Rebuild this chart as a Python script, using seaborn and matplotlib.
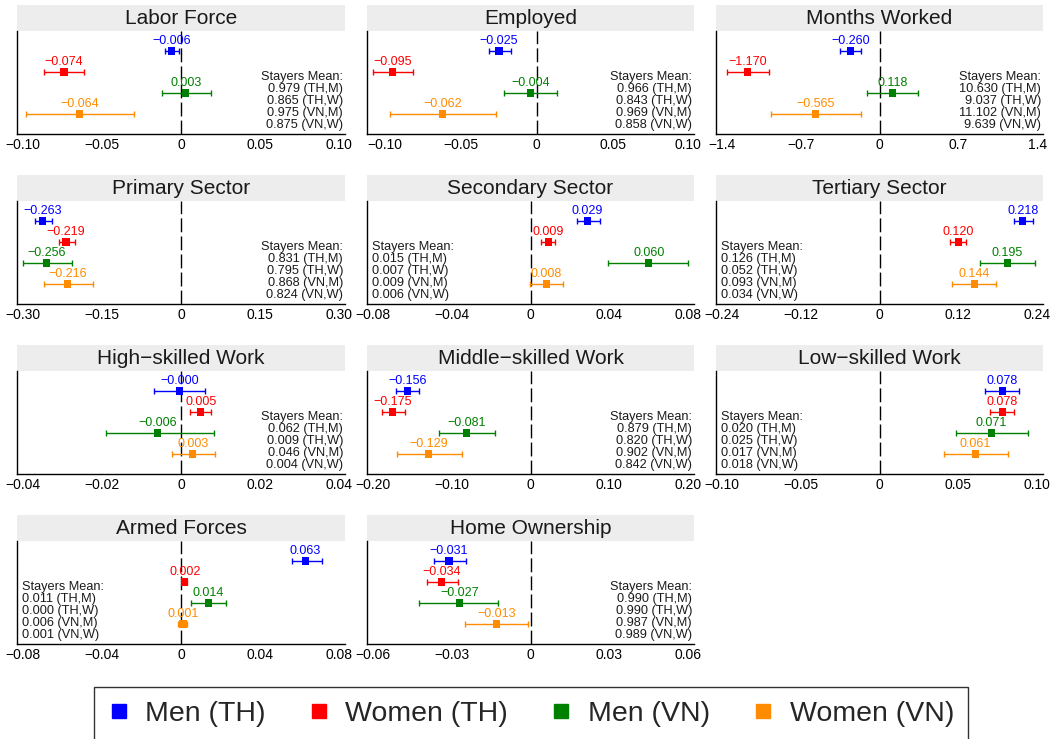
import numpy as np
import pandas as pd
import matplotlib
matplotlib.use("Agg")
import matplotlib.pyplot as plt
import seaborn as sns
from matplotlib.lines import Line2D
from matplotlib.patches import Rectangle

sns.set_theme(style="white")
plt.rcParams["font.family"] = ["Liberation Sans", "DejaVu Sans"]

# ---------------- data ----------------
panel_titles = ["Labor Force", "Employed", "Months Worked",
                "Primary Sector", "Secondary Sector", "Tertiary Sector",
                "High\u2212skilled Work", "Middle\u2212skilled Work", "Low\u2212skilled Work",
                "Armed Forces", "Home Ownership"]
axis_max = [0.10, 0.10, 1.4, 0.30, 0.08, 0.24, 0.04, 0.20, 0.10, 0.08, 0.06]
tick_decimals = [2, 2, 1, 2, 2, 2, 2, 2, 2, 2, 2]

series_names = ["Men (TH)", "Women (TH)", "Men (VN)", "Women (VN)"]
series_colors = ["#0000FF", "#FF0000", "#008000", "#FF8C00"]
stayer_tags = ["(TH,M)", "(TH,W)", "(VN,M)", "(VN,W)"]

# estimates and 95% CI per series
est_men_th = [-0.006, -0.025, -0.260, -0.263, 0.029, 0.218, -0.0003, -0.156, 0.078, 0.063, -0.031]
lo_men_th = [-0.0101, -0.0316, -0.354, -0.277, 0.0235, 0.2042, -0.0068, -0.170, 0.0671, 0.0559, -0.0367]
hi_men_th = [-0.0010, -0.0172, -0.165, -0.246, 0.0353, 0.2336, 0.0061, -0.141, 0.0883, 0.0711, -0.0246]

est_women_th = [-0.074, -0.095, -1.170, -0.219, 0.009, 0.120, 0.005, -0.175, 0.078, 0.002, -0.034]
lo_women_th = [-0.0865, -0.1084, -1.356, -0.233, 0.0054, 0.1077, 0.0024, -0.189, 0.0703, 0.0015, -0.0394]
hi_women_th = [-0.0611, -0.0817, -0.981, -0.202, 0.0122, 0.1320, 0.0077, -0.159, 0.0851, 0.0030, -0.0276]

est_men_vn = [0.003, -0.004, 0.118, -0.256, 0.060, 0.195, -0.006, -0.081, 0.071, 0.014, -0.027]
lo_men_vn = [-0.0118, -0.0216, -0.112, -0.301, 0.0395, 0.1524, -0.0190, -0.1167, 0.0487, 0.0049, -0.0423]
hi_men_vn = [0.0189, 0.0130, 0.342, -0.208, 0.0800, 0.2362, 0.0083, -0.0448, 0.0942, 0.0227, -0.0124]

est_women_vn = [-0.064, -0.062, -0.565, -0.216, 0.008, 0.144, 0.003, -0.129, 0.061, 0.001, -0.013]
lo_women_vn = [-0.0977, -0.0969, -0.967, -0.261, -0.0005, 0.1097, -0.0024, -0.169, 0.0408, -0.0013, -0.0248]
hi_women_vn = [-0.0299, -0.0272, -0.162, -0.168, 0.0167, 0.1767, 0.0087, -0.0875, 0.0815, 0.0032, -0.0010]

# stayers means
mean_men_th = ["0.979", "0.966", "10.630", "0.831", "0.015", "0.126", "0.062", "0.879", "0.020", "0.011", "0.990"]
mean_women_th = ["0.865", "0.843", "9.037", "0.795", "0.007", "0.052", "0.009", "0.820", "0.025", "0.000", "0.990"]
mean_men_vn = ["0.975", "0.969", "11.102", "0.868", "0.009", "0.093", "0.046", "0.902", "0.017", "0.006", "0.987"]
mean_women_vn = ["0.875", "0.858", "9.639", "0.824", "0.006", "0.034", "0.004", "0.842", "0.018", "0.001", "0.989"]
stayers_side = ["right", "right", "right", "right", "left", "left", "right", "right", "left", "left", "right"]

ests = [est_men_th, est_women_th, est_men_vn, est_women_vn]
los = [lo_men_th, lo_women_th, lo_men_vn, lo_women_vn]
his = [hi_men_th, hi_women_th, hi_men_vn, hi_women_vn]
means = [mean_men_th, mean_women_th, mean_men_vn, mean_women_vn]

# ---------------- layout ----------------
W, H = 1054, 739
fig = plt.figure(figsize=(W / 100, H / 100), dpi=100)
col_lr = [(17, 345), (367, 694), (716, 1043)]
row_tb = [(31, 134), (201, 304), (371, 474), (541, 644)]
strip_px = 26

def fmt(v, d):
    if abs(v) < 1e-12:
        return "0"
    return f"{v:.{d}f}".replace("-", "\u2212")

for i, title in enumerate(panel_titles):
    r, c = divmod(i, 3)
    l, rr = col_lr[c]
    t, b = row_tb[r]
    ax = fig.add_axes([l / W, 1 - b / H, (rr - l) / W, (b - t) / H])
    M = axis_max[i]
    df = pd.DataFrame({
        "est": [s[i] for s in ests],
        "lo": [s[i] for s in los],
        "hi": [s[i] for s in his],
        "group": series_names,
        "ypos": [4, 3, 2, 1],
    })
    ax.axvline(0, color="black", lw=1.0, ls=(0, (10, 3)), zorder=1)
    for _, row in df.iterrows():
        col = series_colors[series_names.index(row["group"])]
        ax.errorbar(row["est"], row["ypos"],
                    xerr=[[row["est"] - row["lo"]], [row["hi"] - row["est"]]],
                    fmt="none", ecolor=col, elinewidth=1.0, capsize=2.3,
                    capthick=1.0, zorder=2)
        ax.annotate(fmt(row["est"], 3), (row["est"], row["ypos"]),
                    xytext=(0, 7.5), textcoords="offset points",
                    ha="center", va="center", fontsize=9, color=col, zorder=4)
    sns.scatterplot(data=df, x="est", y="ypos", hue="group",
                    hue_order=series_names, palette=series_colors,
                    marker="s", s=26, linewidth=0, legend=False, ax=ax, zorder=3)

    pad = 0.037 * M
    xlo = min(-M, df["lo"].min()) - pad
    xhi = max(M, df["hi"].max()) + pad
    ax.set_xlim(xlo, xhi)
    ax.set_ylim(0.05, 4.95)
    ticks = np.linspace(-M, M, 5)
    ax.set_xticks(ticks)
    ax.set_xticklabels([fmt(v, tick_decimals[i]) for v in ticks])
    ax.set_yticks([])
    ax.set_xlabel("")
    ax.set_ylabel("")
    ax.tick_params(axis="x", length=0, pad=3, labelsize=10, colors="black")
    for s in ["top", "right"]:
        ax.spines[s].set_visible(False)
    for s in ["left", "bottom"]:
        ax.spines[s].set_color("black")
        ax.spines[s].set_linewidth(1.0)

    # strip title
    sh = strip_px / (b - t)
    ax.add_patch(Rectangle((0, 1.0), 1, sh, transform=ax.transAxes,
                           facecolor="#EDEDED", edgecolor="none", clip_on=False))
    ax.text(0.5, 1.0 + sh / 2, title, transform=ax.transAxes, ha="center",
            va="center", fontsize=15, color="#1a1a1a")

    # stayers mean block
    lines = ["Stayers Mean:"] + [f"{means[k][i]} {stayer_tags[k]}" for k in range(4)]
    side = stayers_side[i]
    xpos = 0.994 if side == "right" else 0.015
    ax.text(xpos, 0.32, "\n".join(lines), transform=ax.transAxes,
            ha=side, va="center", multialignment=side, fontsize=9.2,
            linespacing=1.0, color="#1a1a1a")

handles = [Line2D([], [], marker="s", color=c, linestyle="None", markersize=10.5)
           for c in series_colors]
leg = fig.legend(handles, series_names, loc="center",
                 bbox_to_anchor=(531 / W, 1 - 714 / H), ncol=4, fontsize=20.5,
                 frameon=True, fancybox=False, edgecolor="black",
                 handlelength=0.75, handletextpad=0.55, columnspacing=1.5,
                 borderpad=0.5)
leg.get_frame().set_linewidth(1.0)

fig.savefig("out.png", dpi=100)
